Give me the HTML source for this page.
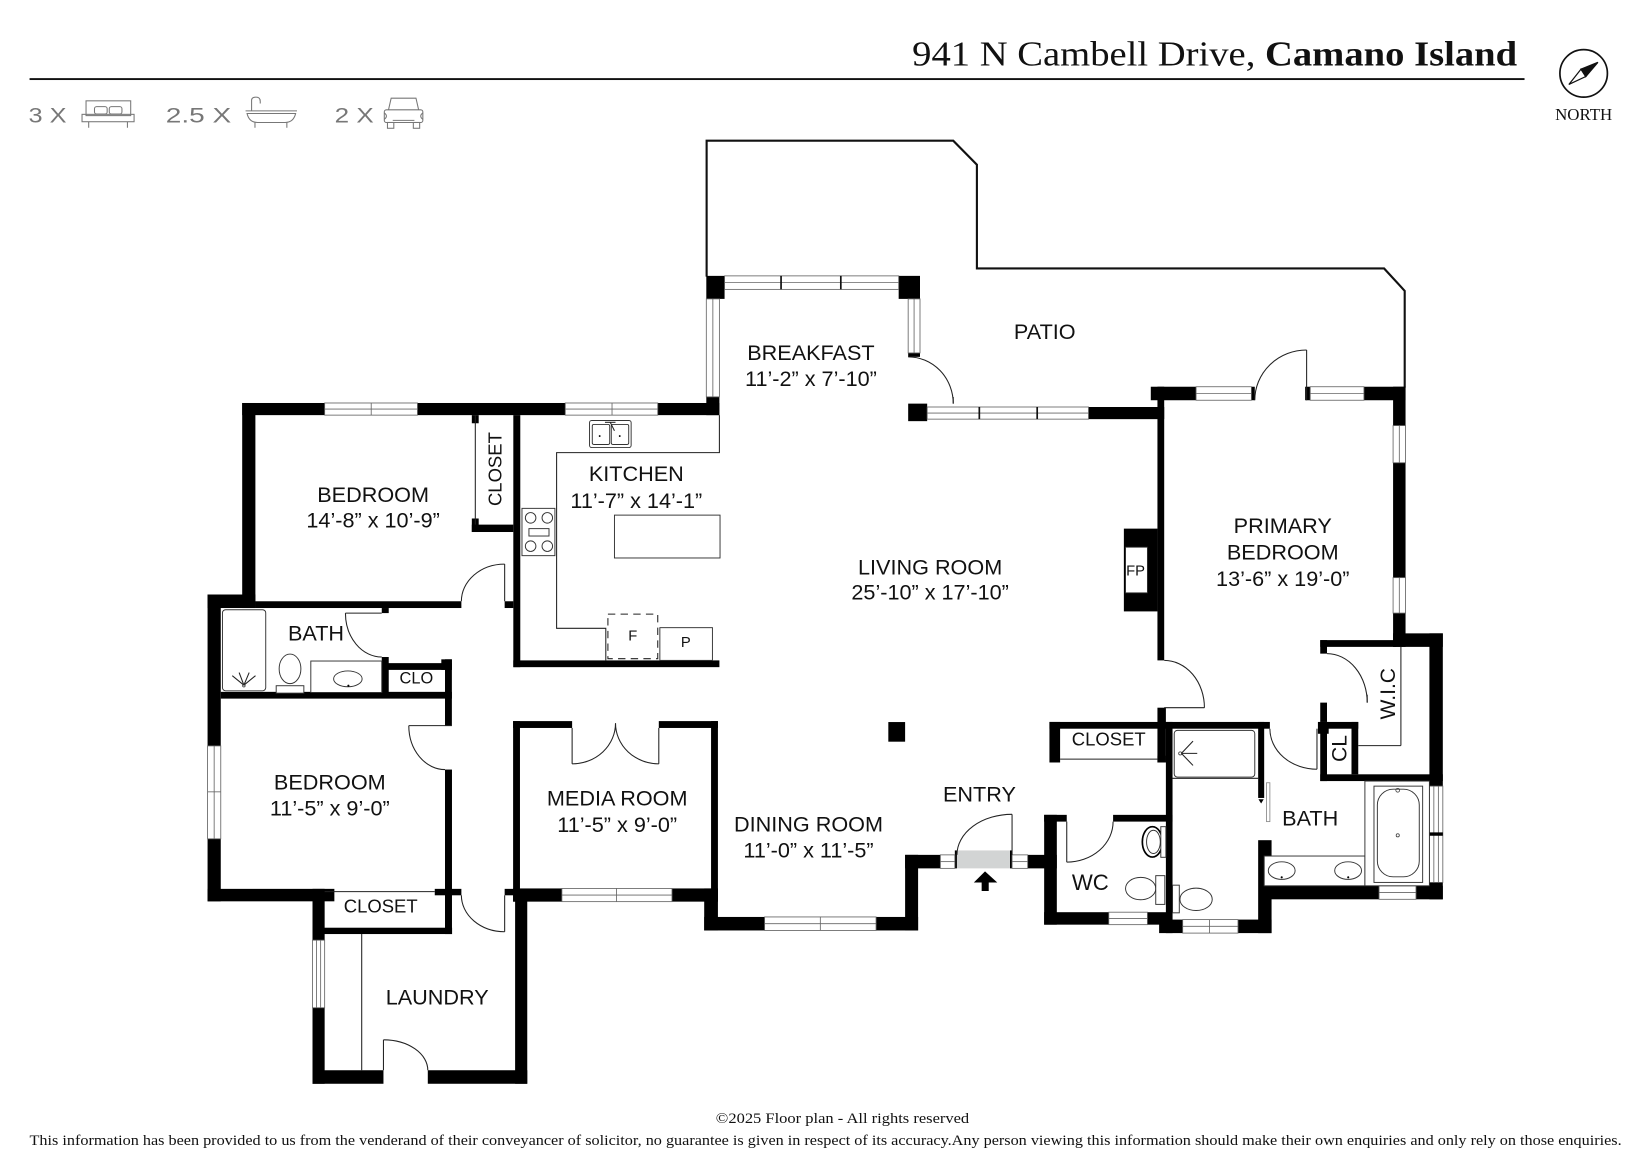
<!DOCTYPE html>
<html>
<head>
<meta charset="utf-8">
<style>
html,body{margin:0;padding:0;background:#fff;}
svg{display:block;}
.w{fill:#000;}
.win{fill:#fff;stroke:#666;stroke-width:0.8;}
.wl{stroke:#666;stroke-width:0.8;fill:none;}
.ln{stroke:#222;stroke-width:1;fill:none;}
.fx{stroke:#333;stroke-width:0.9;fill:#fff;}
.t{font-family:"Liberation Sans",Arial,sans-serif;font-size:20.5px;text-anchor:middle;fill:#111;}
.ic{stroke:#777;stroke-width:1;fill:none;}
</style>
</head>
<body>
<svg width="1647" height="1164" viewBox="0 0 1560 1102.5" preserveAspectRatio="none" xmlns="http://www.w3.org/2000/svg">
<rect x="0" y="0" width="1560" height="1102.5" fill="#fff"/>

<!-- HEADER -->
<text x="864" y="62" font-family="Liberation Serif, serif" font-size="33" textLength="573" lengthAdjust="spacingAndGlyphs" fill="#111">941 N Cambell Drive, <tspan font-weight="bold">Camano Island</tspan></text>
<rect x="28" y="74" width="1416" height="1.8" fill="#111"/>

<g font-family="Liberation Sans, sans-serif" font-size="20" fill="#777">
<text x="27" y="116" textLength="36" lengthAdjust="spacingAndGlyphs">3 X</text>
<text x="157" y="116" textLength="62" lengthAdjust="spacingAndGlyphs">2.5 X</text>
<text x="317" y="116" textLength="37" lengthAdjust="spacingAndGlyphs">2 X</text>
</g>
<!-- bed icon -->
<g class="ic">
<rect x="81.5" y="95.5" width="42.3" height="14"/>
<rect x="89.5" y="101" width="12" height="7" rx="2"/>
<rect x="103.5" y="101" width="12" height="7" rx="2"/>
<rect x="77.7" y="108.3" width="49.3" height="7"/>
<line x1="84" y1="115.3" x2="84" y2="121"/>
<line x1="120.7" y1="115.3" x2="120.7" y2="121"/>
</g>
<!-- bathtub icon -->
<g class="ic">
<path d="M238.3,105 V95 Q238.3,92 242.5,92 Q246.5,92 246.5,96 V98"/>
<line x1="232.6" y1="105" x2="281.3" y2="105"/>
<line x1="233.5" y1="107.5" x2="280.5" y2="107.5"/>
<path d="M234,107.5 Q236,116 244,116 H270 Q278,116 280,107.5"/>
<line x1="241.5" y1="116" x2="241.5" y2="121"/>
<line x1="271.7" y1="116" x2="271.7" y2="121"/>
</g>
<!-- car icon -->
<g class="ic">
<path d="M368,104 L370.5,93 H394 L396.5,104"/>
<rect x="364" y="104" width="36.5" height="12" rx="2"/>
<path d="M364,107 Q368,110 364,113"/>
<path d="M400.5,107 Q396.5,110 400.5,113"/>
<line x1="372" y1="114" x2="392.5" y2="114"/>
<rect x="367" y="116" width="6" height="5.5"/>
<rect x="391.5" y="116" width="6" height="5.5"/>
</g>

<!-- compass -->
<circle cx="1500" cy="69.5" r="22.5" fill="none" stroke="#111" stroke-width="1.6"/>
<polygon points="1486,80 1497.5,65.5 1502,72.5" fill="#fff" stroke="#111" stroke-width="1.2"/>
<polygon points="1513.5,59 1497.5,65.5 1502,72.5" fill="#111" stroke="#111" stroke-width="1.2"/>
<text x="1500" y="113.5" font-family="Liberation Serif, serif" font-size="16" text-anchor="middle" fill="#111">NORTH</text>

<!-- PATIO outline -->
<polyline points="669.3,262 669.3,133.3 902.9,133.3 925.3,156 925.3,254.3 1311,254.3 1330.5,275.5 1330.5,367" fill="none" stroke="#111" stroke-width="2"/>

<!-- ============ WALLS ============ -->
<g class="w">
<rect x="229.4" y="381.7" width="452" height="11.5"/>
<rect x="229.4" y="381.7" width="12.5" height="194.2"/>
<rect x="196.6" y="563.1" width="45.3" height="12.8"/>
<rect x="196.6" y="563.1" width="12.5" height="290.6"/>
<rect x="241.9" y="569.5" width="195.1" height="6.4"/>
<rect x="478" y="569.5" width="8.2" height="6.4"/>
<rect x="446.9" y="393.2" width="6.5" height="7.7"/>
<rect x="446.9" y="491.1" width="6.5" height="12.8"/>
<rect x="446.9" y="496.9" width="39.3" height="7"/>
<rect x="486.2" y="393.2" width="6.6" height="238.7"/>
<rect x="486.2" y="625.5" width="195.2" height="6.4"/>
<rect x="361.6" y="575.9" width="6.6" height="4.8"/>
<rect x="361.6" y="622.3" width="6.6" height="39.1"/>
<rect x="209.1" y="655.3" width="218.9" height="6.4"/>
<rect x="366.5" y="628.1" width="61.5" height="6.4"/>
<rect x="418" y="624.5" width="10" height="10"/>
<rect x="421.5" y="624.5" width="6.5" height="62.8"/>
<rect x="421.5" y="728.9" width="6.6" height="155.8"/>
<rect x="196.6" y="841.9" width="120.1" height="11.8"/>
<rect x="296" y="841.9" width="11.5" height="184.6"/>
<rect x="411.8" y="841.9" width="25.2" height="6.1"/>
<rect x="296" y="878.7" width="132.2" height="6"/>
<rect x="478" y="841.9" width="9.9" height="6.1"/>
<rect x="487.9" y="841.9" width="11.5" height="184.6"/>
<rect x="296" y="1013.7" width="67.2" height="12.8"/>
<rect x="405.2" y="1013.7" width="94.2" height="12.8"/>
<rect x="486" y="683" width="6.5" height="171"/>
<rect x="486" y="683" width="55.9" height="6.5"/>
<rect x="624" y="683" width="56" height="6.5"/>
<rect x="673.5" y="683" width="6.5" height="171"/>
<rect x="486" y="841.5" width="194" height="12.5"/>
<rect x="667" y="841.5" width="13" height="39.8"/>
<rect x="667" y="868.5" width="202.6" height="12.8"/>
<rect x="857.3" y="809.7" width="12.3" height="71.6"/>
<rect x="857.3" y="809.7" width="33.4" height="12.8"/>
<rect x="973.4" y="809.7" width="27.6" height="12.8"/>
<rect x="904.4" y="805.5" width="2" height="17"/>
<rect x="956.6" y="805.5" width="2" height="17"/>
<rect x="989" y="771.8" width="12" height="104"/>
<rect x="989" y="771.8" width="21.4" height="6.4"/>
<rect x="1054.3" y="771.8" width="56.3" height="6.4"/>
<rect x="989" y="864" width="121.6" height="11.8"/>
<rect x="1104.3" y="683.8" width="6.3" height="200"/>
<rect x="1097.9" y="871" width="106.5" height="12.8"/>
<rect x="1191.7" y="683.8" width="5.7" height="72"/>
<rect x="1191.7" y="795.8" width="12.7" height="88"/>
<rect x="1197.4" y="839" width="169.2" height="12.8"/>
<rect x="1353.9" y="599.9" width="12.7" height="251.9"/>
<rect x="1319.5" y="599.9" width="47.1" height="12.8"/>
<rect x="1319.5" y="366.3" width="11.8" height="246.4"/>
<rect x="1090" y="366.3" width="42.9" height="12.8"/>
<rect x="1185.3" y="366.3" width="3.2" height="12.8"/>
<rect x="1236.2" y="366.3" width="4.8" height="12.8"/>
<rect x="1291.9" y="366.3" width="39.4" height="12.8"/>
<rect x="1096.3" y="366.3" width="6.4" height="259.2"/>
<rect x="1096.3" y="670.3" width="8" height="51.9"/>
<rect x="860.2" y="382.3" width="18" height="16.6"/>
<rect x="1031" y="385.5" width="71.7" height="11.5"/>
<rect x="669" y="261.3" width="17.3" height="21.8"/>
<rect x="851.2" y="261.3" width="20.2" height="21.8"/>
<rect x="669" y="375.9" width="12.4" height="17.3"/>
<rect x="860.2" y="334.3" width="11.2" height="3.7"/>
<rect x="994" y="683.8" width="208.8" height="6.4"/>
<rect x="994" y="683.8" width="10.1" height="38.4"/>
<rect x="1096.3" y="715.8" width="8" height="6.4"/>
<rect x="1248.3" y="683.8" width="10.2" height="11.2"/>
<rect x="1250.5" y="683.8" width="36" height="6.4"/>
<rect x="1250.5" y="683.8" width="6.4" height="56"/>
<rect x="1280.1" y="683.8" width="6.4" height="49.6"/>
<rect x="1250.5" y="733.4" width="116.1" height="6.4"/>
<rect x="1250.5" y="606.3" width="6.4" height="12.8"/>
<rect x="1250.5" y="665.5" width="6.4" height="18.3"/>
<rect x="1250.5" y="606.3" width="72" height="6.4"/>
<rect x="841.4" y="683.9" width="15.9" height="18.6"/>
<rect x="1064.5" y="500.7" width="31.8" height="78.4"/>
</g>

<rect x="1066.1" y="518.3" width="20.7" height="43.2" fill="#fff" stroke="#333" stroke-width="0.8"/>

<!-- ============ WINDOWS ============ -->
<g>
<rect class="win" x="307.5" y="381.7" width="87.9" height="11.5"/><line class="wl" x1="307.5" y1="387.45" x2="395.4" y2="387.45"/><line class="wl" x1="351.6" y1="381.7" x2="351.6" y2="393.2"/>
<rect class="win" x="535.4" y="381.7" width="87.6" height="11.5"/><line class="wl" x1="535.4" y1="387.45" x2="623" y2="387.45"/><line class="wl" x1="579.7" y1="381.7" x2="579.7" y2="393.2"/>
<rect class="win" x="686.3" y="261.3" width="164.9" height="12.8"/><line class="wl" x1="686.3" y1="267.7" x2="851.2" y2="267.7"/>
<rect x="739" y="261.3" width="1.6" height="12.8" fill="#111"/><rect x="795.6" y="261.3" width="1.6" height="12.8" fill="#111"/>
<rect class="win" x="878.2" y="385.5" width="152.8" height="11.5"/><line class="wl" x1="878.2" y1="391.25" x2="1031" y2="391.25"/>
<rect x="926.8" y="385.5" width="1.6" height="11.5" fill="#111"/><rect x="981.6" y="385.5" width="1.6" height="11.5" fill="#111"/>
<rect class="win" x="1132.9" y="366.3" width="52.4" height="12.8"/><line class="wl" x1="1132.9" y1="372.7" x2="1185.3" y2="372.7"/>
<rect class="win" x="1241" y="366.3" width="50.9" height="12.8"/><line class="wl" x1="1241" y1="372.7" x2="1291.9" y2="372.7"/>
<rect class="win" x="532.2" y="841.5" width="104.3" height="12.5"/><line class="wl" x1="532.2" y1="847.75" x2="636.5" y2="847.75"/><line class="wl" x1="584" y1="841.5" x2="584" y2="854"/>
<rect class="win" x="724.2" y="868.5" width="105.6" height="12.8"/><line class="wl" x1="724.2" y1="874.9" x2="829.8" y2="874.9"/><line class="wl" x1="777" y1="868.5" x2="777" y2="881.3"/>
<rect class="win" x="890.7" y="809.7" width="13.7" height="12.8"/><line class="wl" x1="890.7" y1="816.1" x2="904.4" y2="816.1"/>
<rect class="win" x="958.6" y="809.7" width="14.8" height="12.8"/><line class="wl" x1="958.6" y1="816.1" x2="973.4" y2="816.1"/>
<rect class="win" x="1050.2" y="864" width="36.6" height="11.8"/><line class="wl" x1="1050.2" y1="869.9" x2="1086.8" y2="869.9"/>
<rect class="win" x="1120.2" y="871" width="52.4" height="12.8"/><line class="wl" x1="1120.2" y1="877.4" x2="1172.6" y2="877.4"/><line class="wl" x1="1145.6" y1="871" x2="1145.6" y2="883.8"/>
<rect class="win" x="1306.2" y="839" width="35" height="12.8"/><line class="wl" x1="1306.2" y1="845.4" x2="1341.2" y2="845.4"/>
<rect class="win" x="196.6" y="706.5" width="12.5" height="88"/><line class="wl" x1="202.85" y1="706.5" x2="202.85" y2="794.5"/><line class="wl" x1="196.6" y1="750" x2="209.1" y2="750"/>
<rect class="win" x="296" y="890.5" width="11.5" height="64"/><line class="wl" x1="299.8" y1="890.5" x2="299.8" y2="954.5"/><line class="wl" x1="303.7" y1="890.5" x2="303.7" y2="954.5"/>
<rect class="win" x="669" y="283.1" width="12.4" height="92.8"/><line class="wl" x1="675.2" y1="283.1" x2="675.2" y2="375.9"/>
<rect class="win" x="860.2" y="283.1" width="11.2" height="51.2"/><line class="wl" x1="865.8" y1="283.1" x2="865.8" y2="334.3"/>
<rect class="win" x="1319.5" y="403.1" width="11.8" height="35.2"/><line class="wl" x1="1325.4" y1="403.1" x2="1325.4" y2="438.3"/>
<rect class="win" x="1319.5" y="547.1" width="11.8" height="33.6"/><line class="wl" x1="1325.4" y1="547.1" x2="1325.4" y2="580.7"/>
<rect class="win" x="1353.9" y="744.6" width="12.7" height="91.2"/><line class="wl" x1="1358.1" y1="744.6" x2="1358.1" y2="835.8"/><line class="wl" x1="1362.4" y1="744.6" x2="1362.4" y2="835.8"/>
<rect x="1353.9" y="788.4" width="12.7" height="3.2" fill="#000"/>
</g>

<rect x="906.4" y="805.5" width="50.2" height="17" fill="#d2d4d4"/>
<polygon points="933,825.3 944.6,835.9 936.5,835.9 936.5,843.9 929.8,843.9 929.8,835.9 922.4,835.9" fill="#000"/>

<!-- ============ DOORS ============ -->
<g class="ln">
<line x1="478" y1="534.3" x2="478" y2="569.5"/>
<path d="M478,534.3 A41,35.2 0 0 0 437,569.5"/>
<path d="M327.2,580.7 A34.4,41.6 0 0 0 361.6,622.3"/>
<line x1="327.2" y1="580.7" x2="361.6" y2="580.7"/>
<line x1="450.2" y1="393.2" x2="450.2" y2="496.9"/>
<line x1="387.2" y1="687.3" x2="428" y2="687.3"/>
<path d="M387.2,687.3 A34.3,41.6 0 0 0 421.5,728.9"/>
<line x1="307.5" y1="844.5" x2="411.8" y2="844.5"/>
<line x1="478" y1="848" x2="478" y2="882.5"/>
<path d="M437,848 A41,34.5 0 0 0 478,882.5"/>
<line x1="363.2" y1="984.9" x2="363.2" y2="1013.7"/>
<path d="M363.2,984.9 A42,28.8 0 0 1 405.2,1013.7"/>
<line x1="342.6" y1="884.7" x2="342.6" y2="1013.7"/>
<line x1="541.9" y1="689.5" x2="541.9" y2="723.5"/>
<line x1="624" y1="689.5" x2="624" y2="723.5"/>
<path d="M541.9,723.5 A41.1,38.5 0 0 0 583,685"/>
<path d="M624,723.5 A41,38.5 0 0 1 583,685"/>
<line x1="958.6" y1="771.3" x2="958.6" y2="809.7"/>
<path d="M906.4,809.7 A52.2,38.4 0 0 1 958.6,771.3"/>
<line x1="1010.4" y1="778.2" x2="1010.4" y2="816.6"/>
<path d="M1010.4,816.6 A43.9,38.4 0 0 0 1054.3,778.2"/>
<path d="M860.2,338 A42.7,44.3 0 0 1 902.9,382.3"/>
<line x1="902.9" y1="376" x2="902.9" y2="382.3"/>
<line x1="1237.6" y1="331.5" x2="1237.6" y2="379.1"/>
<path d="M1188.5,379.1 A49.1,47.6 0 0 1 1237.6,331.5"/>
<path d="M1102.7,625.5 A38.1,44.8 0 0 1 1140.8,670.3"/>
<line x1="1102.7" y1="670.3" x2="1140.8" y2="670.3"/>
<path d="M1256.9,619.1 A38.1,46.4 0 0 1 1295,665.5"/>
<line x1="1295" y1="658" x2="1295" y2="665.5"/>
<line x1="1247.4" y1="690.2" x2="1247.4" y2="728.6"/>
<path d="M1202.8,690.2 A44.6,38.4 0 0 0 1247.4,728.6"/>
<line x1="1004.1" y1="719" x2="1096.3" y2="719"/>
<line x1="1326.9" y1="612.7" x2="1326.9" y2="706.2"/>
<line x1="1286.5" y1="706.2" x2="1326.9" y2="706.2"/>
<path d="M681.4,393.2 V428.7 H527.2 V595.1 H573.8 V625.5"/>
<line x1="1110.6" y1="737.2" x2="1191.7" y2="737.2"/>
</g>

<!-- ============ FIXTURES ============ -->
<rect class="fx" x="210.7" y="577.5" width="41" height="76.8" rx="3"/>
<g class="ln" stroke-width="0.8">
<line x1="231" y1="649" x2="220" y2="640"/>
<line x1="231" y1="649" x2="226.5" y2="637"/>
<line x1="231" y1="649" x2="236" y2="637"/>
<line x1="231" y1="649" x2="242" y2="640"/>
</g>
<circle cx="231" cy="649.5" r="1.2" fill="none" stroke="#333" stroke-width="0.7"/>
<rect class="fx" x="261.6" y="649.5" width="26.2" height="7"/>
<ellipse class="fx" cx="274.7" cy="633.5" rx="10.3" ry="14"/>
<rect class="fx" x="294.4" y="626.1" width="67.2" height="29.8"/>
<ellipse class="fx" cx="329.5" cy="643" rx="13.5" ry="7.5"/>
<circle cx="330" cy="649.5" r="1" fill="#000"/>

<rect class="fx" x="558.4" y="398.3" width="39.4" height="25.6" rx="2"/>
<rect class="fx" x="561" y="402" width="16.5" height="19" rx="1.5"/>
<rect class="fx" x="579" y="402" width="16.5" height="19" rx="1.5"/>
<line class="ln" x1="578" y1="400" x2="582" y2="408"/>
<line class="ln" x1="573" y1="400" x2="583" y2="400"/>
<circle cx="568" cy="413" r="0.9" fill="#000"/>
<circle cx="587" cy="413" r="0.9" fill="#000"/>
<rect class="fx" x="494.4" y="481.5" width="31.2" height="44.8"/>
<circle class="fx" cx="502.6" cy="490.5" r="5"/>
<circle class="fx" cx="518.4" cy="490.5" r="5"/>
<circle class="fx" cx="502.6" cy="517.3" r="5"/>
<circle class="fx" cx="518.4" cy="517.3" r="5"/>
<rect class="fx" x="501" y="500.7" width="19" height="7"/>
<rect class="fx" x="582" y="487.9" width="100" height="40.6"/>
<rect x="575.8" y="581.7" width="47.2" height="42.2" fill="none" stroke="#222" stroke-width="1" stroke-dasharray="7,5"/>
<rect class="fx" x="625" y="594.5" width="49.8" height="31"/>

<rect class="fx" x="1112.2" y="691.8" width="76.3" height="44.2" rx="3"/>
<circle cx="1117.9" cy="713.6" r="1.5" fill="none" stroke="#333" stroke-width="0.7"/>
<g class="ln" stroke-width="0.8">
<line x1="1119" y1="713.6" x2="1130" y2="702"/>
<line x1="1119" y1="713.6" x2="1134" y2="713.6"/>
<line x1="1119" y1="713.6" x2="1130" y2="725"/>
</g>
<rect x="1199.6" y="741.4" width="3.2" height="36.8" fill="#fff" stroke="#888" stroke-width="0.8"/>
<polygon points="1192,757 1197,757 1194.5,761" fill="#000"/>
<rect class="fx" x="1110.6" y="838.4" width="6.4" height="26.2"/>
<ellipse class="fx" cx="1132.9" cy="851.8" rx="15.3" ry="10.6"/>
<rect class="fx" x="1197.4" y="810.8" width="95.4" height="28.2"/>
<ellipse class="fx" cx="1214" cy="824.6" rx="12.7" ry="8.3"/>
<ellipse class="fx" cx="1276.9" cy="824.6" rx="12.7" ry="8.3"/>
<circle cx="1214" cy="831" r="1" fill="#000"/>
<circle cx="1277" cy="831" r="1" fill="#000"/>
<rect class="fx" x="1292.8" y="739.8" width="61.1" height="99.2"/>
<rect class="fx" x="1301.4" y="744.6" width="46.1" height="91.2"/>
<rect class="fx" x="1304.6" y="747.5" width="39.7" height="83" rx="15"/>
<circle cx="1323.9" cy="791.2" r="1.5" fill="none" stroke="#333" stroke-width="0.7"/>
<circle cx="1323.9" cy="748.5" r="1.8" fill="none" stroke="#333" stroke-width="0.7"/>
<ellipse cx="1091.5" cy="797.4" rx="9.5" ry="14.4" fill="#fff" stroke="#000" stroke-width="1.6"/>
<ellipse class="fx" cx="1092.5" cy="797.4" rx="6.5" ry="11"/>
<rect class="fx" x="1099.5" y="783" width="4.8" height="29"/>
<ellipse class="fx" cx="1080.4" cy="841.6" rx="14.3" ry="10.6"/>
<rect class="fx" x="1094.7" y="829.4" width="8.6" height="27.2"/>

<!-- ============ LABELS ============ -->
<g class="t" transform="translate(0,-2)">
<text x="353.4" y="477.6">BEDROOM</text>
<text x="353.4" y="501.6">14’-8” x 10’-9”</text>
<text x="602.7" y="457.8">KITCHEN</text>
<text x="602.7" y="483">11’-7” x 14’-1”</text>
<text x="299.3" y="608.8">BATH</text>
<text x="394.4" y="649.6" style="font-size:15.5px">CLO</text>
<text x="312.4" y="749.6">BEDROOM</text>
<text x="312.4" y="774.6">11’-5” x 9’-0”</text>
<text x="360.6" y="866.4" style="font-size:17.5px">CLOSET</text>
<text x="414.1" y="953.5">LAUNDRY</text>
<text x="584.6" y="765">MEDIA ROOM</text>
<text x="584.6" y="790">11’-5” x 9’-0”</text>
<text x="765.8" y="789.4">DINING ROOM</text>
<text x="765.8" y="814.4">11’-0” x 11’-5”</text>
<text x="927.7" y="761">ENTRY</text>
<text x="881" y="546">LIVING ROOM</text>
<text x="881" y="570">25’-10” x 17’-10”</text>
<text x="768.1" y="343">BREAKFAST</text>
<text x="768.1" y="367.6">11’-2” x 7’-10”</text>
<text x="989.6" y="323">PATIO</text>
<text x="1075.6" y="547.3" style="font-size:14px">FP</text>
<text x="1215" y="507">PRIMARY</text>
<text x="1215" y="532">BEDROOM</text>
<text x="1215" y="557.2">13’-6” x 19’-0”</text>
<text x="1050.2" y="708.3" style="font-size:17.5px">CLOSET</text>
<text x="1241" y="784">BATH</text>
<text x="1032.7" y="845" style="font-size:21px">WC</text>
<text x="599.4" y="608.5" style="font-size:14px">F</text>
<text x="649.6" y="615" style="font-size:14px">P</text>
<text transform="translate(468.9,446.3) rotate(-90)" x="0" y="6.3" style="font-size:17.5px">CLOSET</text>
<text transform="translate(1314.1,659.1) rotate(-90)" x="0" y="7.2" style="font-size:20px">W.I.C</text>
<text transform="translate(1268,711) rotate(-90)" x="0" y="7.2" style="font-size:20px">CL</text>
</g>

<!-- FOOTER -->
<text x="798" y="1063.5" font-family="Liberation Serif, serif" font-size="13.5" text-anchor="middle" fill="#111" textLength="240" lengthAdjust="spacingAndGlyphs">©2025  Floor plan  - All rights reserved</text>
<text x="28" y="1084.5" font-family="Liberation Serif, serif" font-size="13.5" fill="#111" textLength="1508" lengthAdjust="spacingAndGlyphs">This information has been provided to us from the venderand of their conveyancer of solicitor, no guarantee is given in respect of its accuracy.Any person viewing this information should make their own enquiries and only rely on those enquiries.</text>
</svg>
</body>
</html>
